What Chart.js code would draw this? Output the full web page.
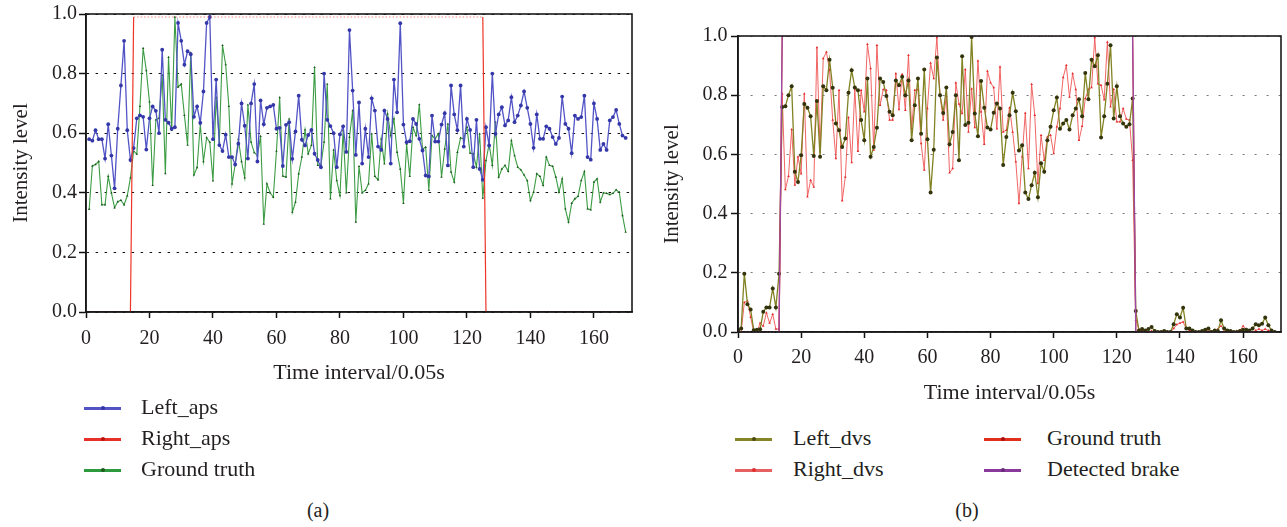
<!DOCTYPE html>
<html><head><meta charset="utf-8">
<script src="https://cdn.jsdelivr.net/npm/chart.js@4"></script>
<style>
body{margin:0;background:#fff;width:1287px;height:527px;overflow:hidden;position:relative;font-family:"Liberation Serif","Times New Roman",serif;color:#231f20;}
canvas{position:absolute;top:0;}
#ca{left:0;}
#cb{left:650px;}
.lg{position:absolute;font-size:22px;line-height:26px;height:26px;white-space:nowrap;}
.ln{position:absolute;height:3px;}
.mk{position:absolute;width:4px;height:4px;border-radius:50%;}
.cap{position:absolute;font-size:20px;line-height:24px;width:60px;text-align:center;}
</style></head>
<body>
<canvas id="ca" width="645" height="395" style="width:645px;height:395px"></canvas>
<canvas id="cb" width="637" height="420" style="width:637px;height:420px"></canvas>
<div id="legends"></div>
<script>
// ---------------- Panel (a) data, x = 1..170 ----------------
const leftAps = [
0.58,0.575,0.61,0.58,0.58,0.515,0.63,0.525,0.415,0.615,
0.76,0.91,0.61,0.51,0.55,0.65,0.66,0.655,0.545,0.65,
0.69,0.675,0.60,0.88,0.645,0.635,0.615,0.62,0.97,0.91,
0.83,0.875,0.865,0.655,0.69,0.635,0.74,0.97,0.99,0.58,
0.78,0.56,0.54,0.595,0.52,0.52,0.495,0.565,0.70,0.625,
0.515,0.70,0.765,0.505,0.71,0.63,0.685,0.69,0.695,0.615,
0.618,0.49,0.628,0.637,0.514,0.606,0.726,0.578,0.559,0.594,
0.611,0.531,0.51,0.486,0.80,0.645,0.624,0.60,0.486,0.596,
0.623,0.537,0.946,0.743,0.527,0.703,0.498,0.615,0.52,0.717,
0.676,0.555,0.544,0.676,0.648,0.498,0.78,0.67,0.969,0.629,
0.57,0.573,0.648,0.631,0.581,0.542,0.458,0.455,0.659,0.572,
0.572,0.629,0.667,0.492,
0.76,0.663,0.61,0.76,0.555,0.648,0.611,0.486,0.645,0.48,
0.444,0.62,0.559,0.80,0.598,0.663,0.687,0.626,0.643,0.721,
0.637,0.659,0.693,0.74,0.685,0.631,0.551,0.663,0.581,0.581,
0.623,0.615,0.587,0.564,0.584,0.723,0.631,0.615,0.533,0.659,
0.648,0.654,0.726,0.52,0.511,0.70,0.648,0.544,0.564,0.544,
0.643,0.654,0.678,0.631,0.592,0.584];
const groundTruthA = [
0.345,0.49,0.495,0.505,0.36,0.36,0.455,0.40,0.35,0.37,
0.375,0.36,0.39,0.45,0.54,0.53,0.69,0.885,0.81,0.705,
0.425,0.645,0.65,0.795,0.465,0.855,0.61,0.99,0.755,0.765,
0.66,0.56,0.87,0.46,0.485,0.63,0.505,0.585,0.57,0.44,
0.72,0.57,0.895,0.83,0.69,0.43,0.495,0.58,0.505,0.45,
0.695,0.57,0.535,0.525,0.59,0.295,0.43,0.40,0.385,0.54,
0.72,0.456,0.453,0.648,0.335,0.369,0.464,0.52,0.611,0.531,
0.559,0.821,0.492,0.492,0.57,0.765,0.38,0.544,0.441,0.391,
0.609,0.40,0.587,0.676,0.302,0.489,0.40,0.408,0.43,0.598,
0.455,0.444,0.581,0.497,0.665,0.592,0.648,0.536,0.48,0.365,
0.564,0.455,0.62,0.592,0.696,0.547,0.553,0.408,0.592,0.581,
0.598,0.453,0.547,0.631,
0.47,0.436,0.536,0.584,0.581,0.62,0.533,0.531,0.486,0.598,
0.382,0.508,0.564,0.492,0.637,0.453,0.48,0.492,0.472,0.575,
0.525,0.486,0.477,0.46,0.441,0.374,0.402,0.464,0.455,0.425,
0.52,0.492,0.489,0.453,0.402,0.447,0.346,0.302,0.365,0.38,
0.388,0.441,0.471,0.346,0.343,0.436,0.447,0.369,0.40,0.398,
0.394,0.398,0.41,0.402,0.324,0.268];
// Right_aps step (corner points)
const rightApsX = [1, 14, 15, 125, 126, 170];
const rightApsY = [0, 0, 0.99, 0.99, 0, 0];

// ---------------- Panel (b) data, x = 0..170 ----------------
const leftDvs = [
0.006,0.012,0.197,0.094,0.076,0.006,0.008,0.009,0.068,0.083,
0.083,0.147,0.083,0.197,0.76,0.763,0.80,0.83,0.541,0.507,
0.597,0.77,0.758,0.729,0.595,0.78,0.592,0.83,0.817,0.92,
0.825,0.704,0.682,0.625,0.654,0.808,0.884,0.826,0.817,0.716,
0.648,0.856,0.592,0.625,0.69,0.856,0.845,0.797,0.744,0.732,
0.85,0.834,0.862,0.80,0.85,0.648,0.766,0.856,0.67,0.887,
0.651,0.471,0.616,0.927,0.80,0.74,0.826,0.634,0.676,0.80,
0.58,0.932,0.699,0.707,0.997,0.738,0.661,0.848,0.758,0.691,
0.684,0.741,0.772,0.755,0.564,0.659,0.732,0.808,0.746,0.613,
0.631,0.471,0.449,0.496,0.538,0.455,0.57,0.541,0.648,0.693,
0.749,0.792,0.687,0.704,0.716,0.684,0.732,0.755,0.786,0.729,
0.875,0.786,0.92,0.898,0.935,0.657,0.729,0.839,0.969,
0.721,0.83,0.729,0.704,0.693,0.702,0.789,0.071,0.005,0.01,
0.005,0.01,0.017,0.003,0.0,0.0,0.003,0.0,0.0,0.026,
0.06,0.049,0.082,0.012,0.012,0.005,0.0,0.0,0.003,0.008,
0.012,0.0,0.005,0.003,0.04,0.012,0.005,0.003,0.0,0.0,
0.003,0.008,0.008,0.005,0.012,0.026,0.023,0.028,0.049,0.023,
0.005,0.0];
const rightDvs = [
0.005,0.0,0.10,0.105,0.05,0.0,0.0,0.03,0.02,0.065,
0.03,0.06,0.01,0.01,0.805,0.481,0.526,0.684,0.497,0.592,
0.535,0.805,0.457,0.513,0.49,0.961,0.61,0.924,0.946,0.884,
0.716,0.586,0.817,0.443,0.524,0.725,0.573,0.822,0.611,0.817,
0.744,0.972,0.89,0.615,0.969,0.766,0.819,0.817,0.716,0.716,
0.873,0.752,0.871,0.749,0.935,0.687,0.817,0.819,0.637,0.547,
0.755,0.909,0.856,0.995,0.80,0.716,0.797,0.538,0.552,0.842,
0.77,0.738,0.887,0.676,0.822,0.691,0.916,0.744,0.634,0.882,
0.842,0.826,0.687,0.896,0.676,0.682,0.758,0.676,0.575,0.434,
0.592,0.74,0.552,0.837,0.732,0.502,0.665,0.58,0.659,0.665,
0.603,0.693,0.755,0.86,0.901,0.794,0.873,0.819,0.648,0.695,
0.789,0.819,0.826,0.995,0.839,0.834,0.785,0.98,0.761,
0.82,0.71,0.71,0.755,0.72,0.716,0.58,0.04,0.01,0.005,
0.005,0.0,0.003,0.0,0.0,0.0,0.0,0.0,0.0,0.012,
0.025,0.03,0.034,0.01,0.005,0.005,0.0,0.0,0.003,0.003,
0.008,0.0,0.0,0.01,0.02,0.008,0.003,0.003,0.0,0.003,
0.005,0.02,0.01,0.005,0.0,0.005,0.01,0.005,0.01,0.005,
0.0,0.0];
// Ground truth / Detected brake steps (corner points)
const stepBX = [0, 13, 14, 125, 126, 170];
const groundTruthBY = [0, 0, 1, 1, 0, 0];
const detectedBrakeY = [0, 0, 1, 1, 0, 0];

const yTicks = [0, 0.2, 0.4, 0.6, 0.8, 1.0];
const xStartA = 1, xStartB = 0;

// ---------------- helpers ----------------
const SERIF = '"Liberation Serif", "Times New Roman", serif';
const TXT = '#231f20';
const toXY = (arr, x0) => arr.map((v, i) => ({x: i + x0, y: v}));
const zip = (xs, ys) => xs.map((x, i) => ({x, y: ys[i]}));
const flat = c => c.p0.parsed.y === c.p1.parsed.y;

const framePlugin = {
  id: 'frame',
  afterDatasetsDraw(chart) {
    const {ctx, chartArea: a} = chart;
    ctx.save();
    ctx.strokeStyle = '#1a1a1a';
    ctx.lineWidth = 1.6;
    ctx.strokeRect(a.left, a.top, a.right - a.left, a.bottom - a.top);
    ctx.restore();
  }
};

function makeScales(o) {
  return {
    x: {
      type: 'linear', min: 0, max: 172,
      afterFit(s) { s.height = o.xh; },
      ticks: {stepSize: 20, includeBounds: false, maxRotation: 0, color: TXT,
              font: {family: SERIF, size: 20}, padding: o.xpad},
      grid: {drawOnChartArea: false, drawTicks: true, tickLength: 6, tickColor: '#111', tickWidth: 1.5},
      border: {color: '#111', width: 1.6},
      title: {display: true, text: 'Time interval/0.05s', color: TXT,
              font: {family: SERIF, size: 22}, padding: {top: 0, bottom: o.xtpad}}
    },
    y: {
      type: 'linear', min: 0, max: 1,
      afterFit(s) { s.width = o.yw; },
      afterBuildTicks(s) { s.ticks = yTicks.map(v => ({value: v})); },
      ticks: {color: TXT, font: {family: SERIF, size: 20}, padding: o.ypad,
              callback: v => Number(v).toFixed(1)},
      grid: {color: o.gridColor, lineWidth: 1, tickLength: 7, tickColor: '#111',
             tickWidth: 1.5, tickBorderDash: []},
      border: {color: '#111', width: 1.6, dash: o.dash},
      title: {display: true, text: 'Intensity level', color: TXT,
              font: {family: SERIF, size: 21}, padding: {top: o.ytpad, bottom: 0}}
    }
  };
}

const common = {
  responsive: false, animation: false, devicePixelRatio: 1,
  plugins: {legend: {display: false}, tooltip: {enabled: false}},
  events: []
};

// ---------------- Chart (a) ----------------
new Chart(document.getElementById('ca'), {
  type: 'line',
  data: {datasets: [
    {label: 'Left_aps', data: toXY(leftAps, xStartA), order: 1,
     borderColor: '#5254c6', borderWidth: 1.3, pointRadius: 1.9,
     pointBackgroundColor: '#3437a8', pointBorderColor: '#3437a8', pointBorderWidth: 0},
    {label: 'Right_aps', data: zip(rightApsX, rightApsY), order: 0,
     borderColor: '#ee3528', borderWidth: 1.2, pointRadius: 0,
     segment: {borderDash: c => flat(c) ? [1.5, 2] : undefined,
               borderColor: c => flat(c) ? 'rgba(240,90,90,0.75)' : undefined}},
    {label: 'Ground truth', data: toXY(groundTruthA, xStartA), order: 2,
     borderColor: '#3c9c44', borderWidth: 1.1, pointRadius: 1.4, pointStyle: 'triangle',
     pointBackgroundColor: '#1c5a1e', pointBorderColor: '#1c5a1e', pointBorderWidth: 0}
  ]},
  options: Object.assign({}, common, {
    layout: {padding: {left: 0, top: 14, right: 13, bottom: 0}},
    scales: makeScales({xh: 83, xpad: 9, xtpad: 9, yw: 86, ypad: 2, ytpad: 8.5,
                        gridColor: '#111', dash: [2.5, 6.5]})
  }),
  plugins: [framePlugin]
});

// ---------------- Chart (b) ----------------
new Chart(document.getElementById('cb'), {
  type: 'line',
  data: {datasets: [
    {label: 'Left_dvs', data: toXY(leftDvs, xStartB), order: 2,
     borderColor: '#828224', borderWidth: 1.3, pointRadius: 2,
     pointBackgroundColor: '#33330c', pointBorderColor: '#33330c', pointBorderWidth: 0},
    {label: 'Right_dvs', data: toXY(rightDvs, xStartB), order: 3,
     borderColor: 'rgba(240,84,84,0.9)', borderWidth: 1, pointRadius: 1.5, pointStyle: 'triangle',
     pointBackgroundColor: '#e52a2a', pointBorderColor: '#e52a2a', pointBorderWidth: 0},
    {label: 'Ground truth', data: zip(stepBX, groundTruthBY), order: 1,
     borderColor: '#e2321e', borderWidth: 1.2, pointRadius: 0,
     segment: {borderDash: c => flat(c) ? [1.5, 2] : undefined}},
    {label: 'Detected brake', data: zip(stepBX, detectedBrakeY), order: 0,
     borderColor: '#9a4aa6', borderWidth: 1.3, pointRadius: 0,
     segment: {borderDash: c => flat(c) ? [1.5, 2] : undefined}}
  ]},
  options: Object.assign({}, common, {
    layout: {padding: {left: 0, top: 36, right: 6, bottom: 0}},
    scales: makeScales({xh: 88, xpad: 8, xtpad: 13.5, yw: 88, ypad: 3.5, ytpad: 9.5,
                        gridColor: '#777', dash: [2, 10]})
  }),
  plugins: [framePlugin]
});

// ---------------- HTML legends & captions ----------------
const legendItems = [
  {t: 'Left_aps',       line: '#5254c6', mk: '#3437a8', lx: 84,  tx: 141,  y: 408},
  {t: 'Right_aps',      line: '#e8302a', mk: '#b8160e', lx: 84,  tx: 141,  y: 439},
  {t: 'Ground truth',   line: '#2e9a3e', mk: '#1c5a1e', lx: 84,  tx: 141,  y: 470},
  {t: 'Left_dvs',       line: '#868628', mk: '#4a4a10', lx: 735, tx: 793,  y: 439},
  {t: 'Right_dvs',      line: '#e66262', mk: '#e03030', lx: 735, tx: 793,  y: 470},
  {t: 'Ground truth',   line: '#e0301c', mk: '#a81010', lx: 984, tx: 1047, y: 439},
  {t: 'Detected brake', line: '#8a3a9a', mk: '#6a2a7a', lx: 984, tx: 1047, y: 470}
];
const host = document.getElementById('legends');
legendItems.forEach(it => {
  const ln = document.createElement('div');
  ln.className = 'ln';
  ln.style.cssText = `left:${it.lx}px;top:${it.y - 1.5}px;width:37px;background:${it.line};`;
  host.appendChild(ln);
  const mk = document.createElement('div');
  mk.className = 'mk';
  mk.style.cssText = `left:${it.lx + 16.5}px;top:${it.y - 2}px;background:${it.mk};`;
  host.appendChild(mk);
  const tx = document.createElement('div');
  tx.className = 'lg';
  tx.style.cssText = `left:${it.tx}px;top:${it.y - 14}px;`;
  tx.textContent = it.t;
  host.appendChild(tx);
});
[['(a)', 318, 510], ['(b)', 967, 510]].forEach(([t, x, y]) => {
  const d = document.createElement('div');
  d.className = 'cap';
  d.style.cssText = `left:${x - 30}px;top:${y - 12}px;`;
  d.textContent = t;
  host.appendChild(d);
});
</script>
</body></html>
